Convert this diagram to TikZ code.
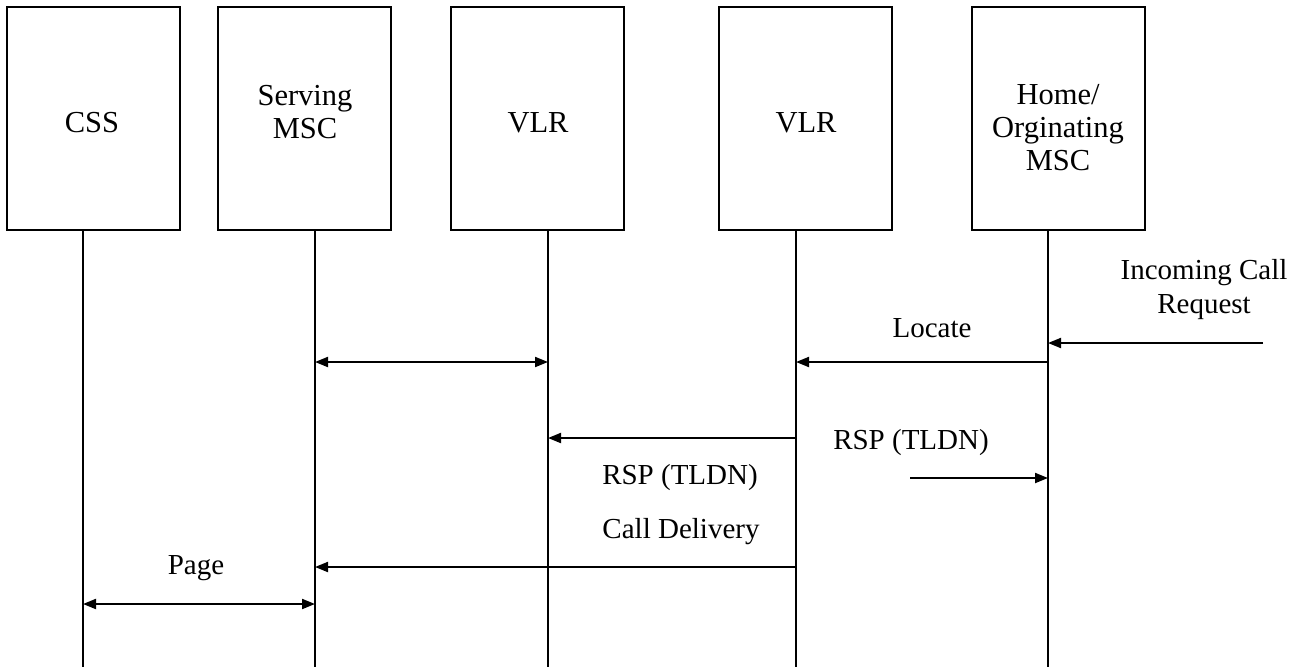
\documentclass[tikz,border=0pt]{standalone}
\usepackage{fontspec}
\setmainfont{Liberation Serif}
\usepackage{xcolor}
\definecolor{cLine}{HTML}{000000}
\usepackage{tikz}
\usetikzlibrary{arrows.meta}
\tikzset{
  node-box/.style={draw=cLine,line width=2.6pt,minimum width=173pt,
    minimum height=223pt,font=\fontsize{30.5}{33}\selectfont},
  node-text/.style={align=center,inner sep=0pt,
    font=\fontsize{30.5}{33}\selectfont},
  node-label/.style={align=center,inner sep=0pt,
    font=\fontsize{29}{34}\selectfont},
  lifeline/.style={draw=cLine,line width=2.2pt},
  arrow/.style={-{Triangle[length=13pt,width=10pt]},line width=2pt,draw=cLine},
  arrow-both/.style={{Triangle[length=13pt,width=10pt]}-{Triangle[length=13pt,width=10pt]},
    line width=2pt,draw=cLine},
}

\begin{document}
\begin{tikzpicture}[x=1pt,y=-1pt]
  \useasboundingbox (0,0) rectangle (1297,667);
  % entities
  \node[node-box] (css)  at (93.5,118.5)  {};
  \node[node-box] (smsc) at (304.5,118.5) {};
  \node[node-box] (vlr1) at (537.5,118.5) {};
  \node[node-box] (vlr2) at (805.5,118.5) {};
  \node[node-box] (hmsc) at (1058.5,118.5) {};
  \node[node-text] (css-txt)  at (92,123)   {CSS};
  \node[node-text] (smsc-txt) at (305,112)  {Serving\\MSC};
  \node[node-text] (vlr1-txt) at (538,123)  {VLR};
  \node[node-text] (vlr2-txt) at (806,123)  {VLR};
  \node[node-text] (hmsc-txt) at (1058,128) {Home/\\Orginating\\MSC};
  % lifelines
  \coordinate (css-top)  at (83,230);   \coordinate (css-end)  at (83,667);
  \coordinate (smsc-top) at (315,230);  \coordinate (smsc-end) at (315,667);
  \coordinate (vlr1-top) at (548,230);  \coordinate (vlr1-end) at (548,667);
  \coordinate (vlr2-top) at (796,230);  \coordinate (vlr2-end) at (796,667);
  \coordinate (hmsc-top) at (1048,230); \coordinate (hmsc-end) at (1048,667);
  \draw[lifeline] (css-top)  -- (css-end);
  \draw[lifeline] (smsc-top) -- (smsc-end);
  \draw[lifeline] (vlr1-top) -- (vlr1-end);
  \draw[lifeline] (vlr2-top) -- (vlr2-end);
  \draw[lifeline] (hmsc-top) -- (hmsc-end);
  % message levels
  \coordinate (m-inc)  at (0,343);
  \coordinate (m-loc)  at (0,362);
  \coordinate (m-rsp)  at (0,438);
  \coordinate (m-rsp2) at (0,478);
  \coordinate (m-call) at (0,567);
  \coordinate (m-page) at (0,604);
  \coordinate (inc-src) at (1263,343);
  \coordinate (rsp-src) at (910,478);
  % messages
  \draw[arrow] (inc-src) -- (hmsc-top |- m-inc);
  \draw[arrow] (hmsc-top |- m-loc) -- (vlr2-top |- m-loc);
  \draw[arrow-both] (smsc-top |- m-loc) -- (vlr1-top |- m-loc);
  \draw[arrow] (vlr2-top |- m-rsp) -- (vlr1-top |- m-rsp);
  \draw[arrow] (rsp-src) -- (hmsc-top |- m-rsp2);
  \draw[arrow] (vlr2-top |- m-call) -- (smsc-top |- m-call);
  \draw[arrow-both] (css-top |- m-page) -- (smsc-top |- m-page);
  % labels
  \node[node-label] (lbl-inc)    at (1204,290) {Incoming Call\\Request};
  \node[node-label] (lbl-loc)    at (932,328)  {Locate};
  \node[node-label] (lbl-rsp2)   at (911,443)  {RSP (TLDN)};
  \node[node-label] (lbl-rsp)    at (680,478)  {RSP (TLDN)};
  \node[node-label] (lbl-call)   at (681,532)  {Call Delivery};
  \node[node-label] (lbl-page)   at (196,568)  {Page};
\end{tikzpicture}
\end{document}
